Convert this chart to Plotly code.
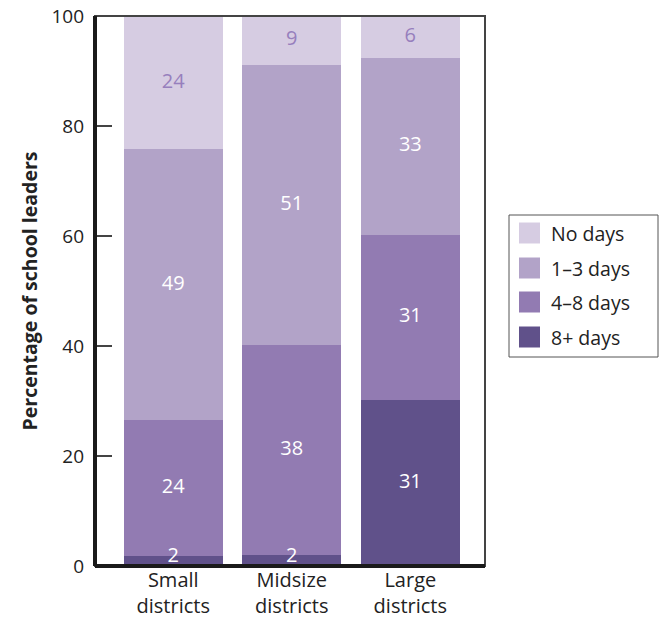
import plotly.graph_objects as go

categories = ["Small<br>districts", "Midsize<br>districts", "Large<br>districts"]
series_names = ["8+ days", "4\u20138 days", "1\u20133 days", "No days"]
v_8plus = [1.9, 2.0, 30.2]
v_4to8 = [24.6, 38.2, 30.0]
v_1to3 = [49.3, 50.9, 32.2]
v_none = [24.2, 8.9, 7.6]
lbl_8plus = ["2", "2", "31"]
lbl_4to8 = ["24", "38", "31"]
lbl_1to3 = ["49", "51", "33"]
lbl_none = ["24", "9", "6"]
y_ticks = [0, 20, 40, 60, 80, 100]

values = [v_8plus, v_4to8, v_1to3, v_none]
labels = [lbl_8plus, lbl_4to8, lbl_1to3, lbl_none]
colors = ["#60518a", "#927bb2", "#b2a3c8", "#d6cce2"]
text_colors = ["#ffffff", "#ffffff", "#ffffff", "#977fbd"]
FONT = "Open Sans"

xs = list(range(len(categories)))
fig = go.Figure()
base = [0.0] * len(xs)
for i, (name, vals) in enumerate(zip(series_names, values)):
    fig.add_trace(go.Bar(
        x=xs, y=vals, name=name, marker=dict(color=colors[i], line=dict(width=0)),
        width=0.835, hoverinfo="skip", showlegend=False))
    mids = []
    for j, v in enumerate(vals):
        mids.append(base[j] + v / 2)
        base[j] += v
    if i == 0:
        mids = [m if vals[j] > 10 else 1.6 for j, m in enumerate(mids)]
    fig.add_trace(go.Scatter(
        x=xs, y=mids, mode="text", text=labels[i], showlegend=False, cliponaxis=False,
        textfont=dict(color=text_colors[i], size=20, family=FONT), hoverinfo="skip"))

W, H = 662, 618
ML, MR, MT, MB = 95, 177, 16, 52
fig.update_layout(
    barmode="stack", width=W, height=H,
    margin=dict(l=ML, r=MR, t=MT, b=MB, autoexpand=False),
    plot_bgcolor="white", paper_bgcolor="white",
    font=dict(family=FONT, size=19, color="#222222"),
    showlegend=False,
    xaxis=dict(range=[-0.66, 2.63], tickvals=xs, ticktext=categories, automargin=False,
               showgrid=False, zeroline=False, showline=False, ticks="",
               tickfont=dict(size=20)),
    yaxis=dict(range=[0, 100], tickvals=y_ticks, showgrid=False, zeroline=False,
               automargin=False, ticklabelstandoff=10,
               ticks="inside", ticklen=17, tickcolor="#444444", tickwidth=1.5,
               showline=False, tickfont=dict(size=19),
               title=dict(text="<b>Percentage of school leaders</b>",
                          font=dict(size=19.5, family=FONT), standoff=8)),
)
# frame
fig.add_shape(type="rect", xref="paper", yref="paper", x0=0, y0=0, x1=1, y1=1,
              line=dict(color="#444444", width=2), layer="above")
fig.add_shape(type="line", xref="paper", yref="paper", x0=0, y0=0, x1=0, y1=1,
              line=dict(color="#1a1a1a", width=4), layer="above")
fig.add_shape(type="line", xref="paper", yref="paper", x0=0, y0=0, x1=1, y1=0,
              line=dict(color="#1a1a1a", width=4), layer="above")

# legend (drawn manually to match the large square swatches)
pw, ph = W - ML - MR, H - MT - MB
def px_x(x):
    return (x - ML) / pw
def px_y(y):
    return (H - MB - y) / ph

fig.add_shape(type="rect", xref="paper", yref="paper",
              x0=px_x(509), x1=px_x(658), y0=px_y(357), y1=px_y(215),
              line=dict(color="#555555", width=1), fillcolor="white", layer="above")
row_y = [233, 268, 302, 337]
for k, idx in enumerate([3, 2, 1, 0]):
    yc = row_y[k]
    fig.add_shape(type="rect", xref="paper", yref="paper",
                  x0=px_x(519), x1=px_x(540), y0=px_y(yc + 10.5), y1=px_y(yc - 10.5),
                  line=dict(width=0), fillcolor=colors[idx], layer="above")
    fig.add_annotation(xref="paper", yref="paper", x=px_x(549), y=px_y(yc),
                       text=series_names[idx], showarrow=False, xanchor="left",
                       yanchor="middle", font=dict(size=19.5, family=FONT, color="#222222"))

fig.write_html("out.html", config={"displayModeBar": False},
               post_script="document.body.style.margin='0';document.body.style.overflow='hidden';")
